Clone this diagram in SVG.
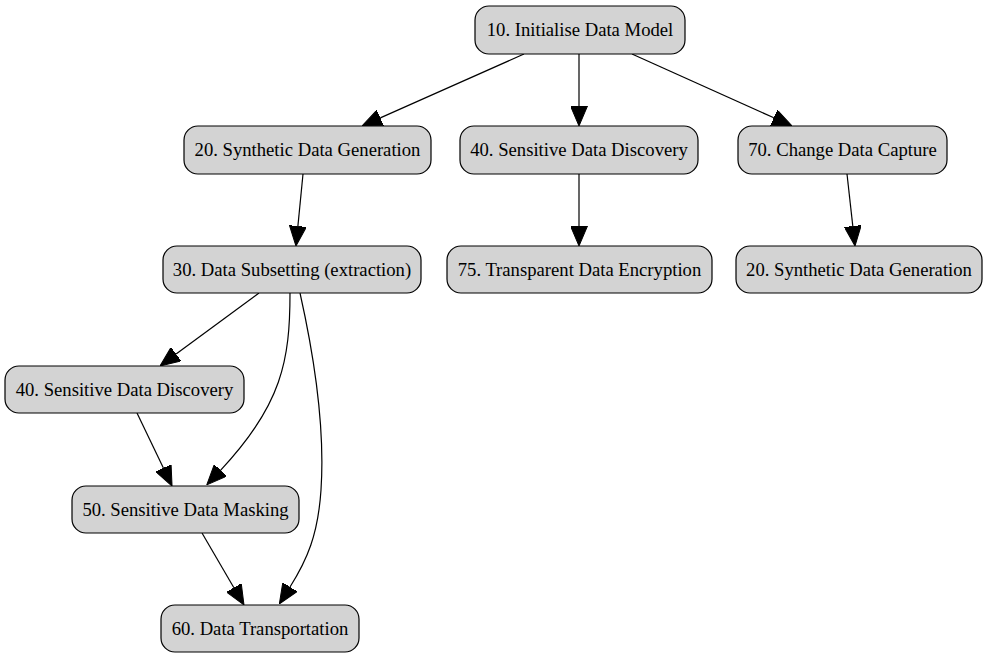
<svg xmlns="http://www.w3.org/2000/svg" width="988" height="659" viewBox="0 0 988 659">
<style>
.node rect{fill:#d3d3d3;stroke:#000;stroke-width:1.2}
.node text{font-family:"Liberation Serif","Times New Roman",serif;font-size:18.67px;text-anchor:middle;fill:#000}
.edges path{fill:none;stroke:#000;stroke-width:1.2;marker-end:url(#arr)}
</style>
<defs>
<marker id="arr" viewBox="0 0 20 17" refX="0" refY="8.5" markerWidth="20" markerHeight="17" markerUnits="userSpaceOnUse" orient="auto">
<path d="M0,0 L20,8.5 L0,17 z" fill="#000" stroke="#000" stroke-width="1"/>
</marker>
</defs>
<rect width="988" height="659" fill="#fff"/>
<g class="edges">
<path d="M524,54 L380.3,117.9"/>
<path d="M579,54 L579,106"/>
<path d="M632,54 L773.8,117.8"/>
<path d="M303,174 L297.9,226.1"/>
<path d="M579,174 L579,226"/>
<path d="M847,174 L852.8,226.1"/>
<path d="M259,293 L176.1,354.1"/>
<path d="M137,413 L163.4,468"/>
<path d="M202,533 L233.9,587.7"/>
<path d="M290,293 C290,360 282,405 220.5,470.3"/>
<path d="M300,293 C315,360 325,430 321,490 C318,535 307,560 290,587"/>
</g>
<g id="n10" class="node"><rect x="475" y="6" width="210" height="48" rx="14"/><text x="580" y="36">10. Initialise Data Model</text></g>
<g id="n20" class="node"><rect x="184" y="126" width="247" height="48" rx="14"/><text x="307.5" y="156">20. Synthetic Data Generation</text></g>
<g id="n40" class="node"><rect x="460" y="126" width="238" height="48" rx="14"/><text x="579" y="156">40. Sensitive Data Discovery</text></g>
<g id="n70" class="node"><rect x="738" y="126" width="209" height="48" rx="14"/><text x="842.5" y="156">70. Change Data Capture</text></g>
<g id="n30" class="node"><rect x="163" y="246" width="258" height="47" rx="14"/><text x="292" y="275.5">30. Data Subsetting (extraction)</text></g>
<g id="n75" class="node"><rect x="447" y="246" width="265" height="47" rx="14"/><text x="579.5" y="275.5">75. Transparent Data Encryption</text></g>
<g id="n20b" class="node"><rect x="736" y="246" width="246" height="47" rx="14"/><text x="859" y="275.5">20. Synthetic Data Generation</text></g>
<g id="n40b" class="node"><rect x="5" y="366" width="239" height="47" rx="14"/><text x="124.5" y="395.5">40. Sensitive Data Discovery</text></g>
<g id="n50" class="node"><rect x="72" y="486" width="227" height="47" rx="14"/><text x="185.5" y="515.5">50. Sensitive Data Masking</text></g>
<g id="n60" class="node"><rect x="161" y="605" width="198" height="47" rx="14"/><text x="260" y="634.5">60. Data Transportation</text></g>
</svg>
